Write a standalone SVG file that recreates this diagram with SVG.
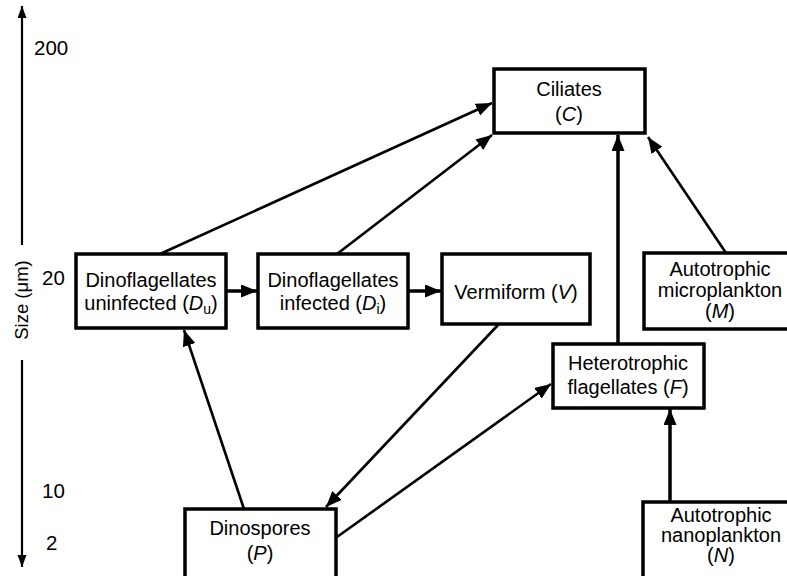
<svg xmlns="http://www.w3.org/2000/svg" width="787" height="576" viewBox="0 0 787 576">
<defs>
<marker id="ah" markerUnits="userSpaceOnUse" markerWidth="17" markerHeight="14" refX="16" refY="6.5" orient="auto">
<path d="M0,0 L16,6.5 L0,13 z" fill="#000"/>
</marker>
<marker id="ax" markerUnits="userSpaceOnUse" markerWidth="13" markerHeight="10" refX="12" refY="4.5" orient="auto">
<path d="M0,0 L12,4.5 L0,9 z" fill="#000"/>
</marker>
</defs>
<style>
.box{fill:#fff;stroke:#000;stroke-width:3.5}
.t{font-family:"Liberation Sans",Arial,sans-serif;font-size:20px;fill:#000;text-anchor:middle}
.ax{font-family:"Liberation Sans",Arial,sans-serif;font-size:20.5px;fill:#000}
.c{stroke:#000;stroke-width:2.6;fill:none;marker-end:url(#ah)}
.ck{stroke:#000;stroke-width:3.5;fill:none;marker-end:url(#ah)}
.i{font-style:italic}
</style>
<rect width="787" height="576" fill="#fff"/>
<g id="axis">
<line x1="22" y1="245" x2="22" y2="6" stroke="#000" stroke-width="2.2" marker-end="url(#ax)"/>
<line x1="22" y1="360" x2="22" y2="567" stroke="#000" stroke-width="2.2" marker-end="url(#ax)"/>
<text class="ax" transform="translate(28,300) rotate(-90)" text-anchor="middle" style="font-size:18.5px">Size (μm)</text>
<text class="ax" x="34" y="55">200</text>
<text class="ax" x="42" y="285">20</text>
<text class="ax" x="42" y="498">10</text>
<text class="ax" x="46" y="550">2</text>
</g>
<g id="connectors">
<line class="c" x1="160" y1="254" x2="492" y2="103"/>
<line class="c" x1="337" y1="254" x2="492" y2="135"/>
<line class="ck" x1="618" y1="344" x2="618" y2="135"/>
<line class="c" x1="726" y1="253" x2="648" y2="137"/>
<line class="ck" x1="226" y1="291" x2="257" y2="291"/>
<line class="ck" x1="408" y1="291" x2="441" y2="291"/>
<line class="c" x1="244" y1="509" x2="184" y2="330"/>
<line class="c" x1="498" y1="325" x2="326" y2="507"/>
<line class="c" x1="337" y1="537" x2="551" y2="384"/>
<line class="ck" x1="670" y1="502" x2="670" y2="409"/>
</g>
<g id="ciliates">
<rect class="box" x="494" y="69" width="151" height="64"/>
<text class="t" x="569" y="96">Ciliates</text>
<text class="t" x="569" y="121">(<tspan class="i">C</tspan>)</text>
</g>
<g id="dino-uninfected">
<rect class="box" x="76" y="254" width="150" height="74"/>
<text class="t" x="151" y="287">Dinoflagellates</text>
<text class="t" x="151" y="310">uninfected (<tspan class="i">D</tspan><tspan font-size="14" dy="4">u</tspan><tspan dy="-4">)</tspan></text>
</g>
<g id="dino-infected">
<rect class="box" x="258" y="254" width="150" height="74"/>
<text class="t" x="333" y="287">Dinoflagellates</text>
<text class="t" x="333" y="310">infected (<tspan class="i">D</tspan><tspan font-size="14" dy="4">i</tspan><tspan dy="-4">)</tspan></text>
</g>
<g id="vermiform">
<rect class="box" x="442" y="254" width="148" height="70"/>
<text class="t" x="516" y="299">Vermiform (<tspan class="i">V</tspan>)</text>
</g>
<g id="micro">
<rect class="box" x="644" y="253" width="152" height="76"/>
<text class="t" x="720" y="276">Autotrophic</text>
<text class="t" x="720" y="297">microplankton</text>
<text class="t" x="720" y="318">(<tspan class="i">M</tspan>)</text>
</g>
<g id="hetero">
<rect class="box" x="553" y="344" width="151" height="64"/>
<text class="t" x="628" y="370">Heterotrophic</text>
<text class="t" x="628" y="394">flagellates (<tspan class="i">F</tspan>)</text>
</g>
<g id="dinospores">
<rect class="box" x="185" y="509" width="151" height="80"/>
<text class="t" x="260" y="535">Dinospores</text>
<text class="t" x="260" y="560">(<tspan class="i">P</tspan>)</text>
</g>
<g id="nano">
<rect class="box" x="643" y="502" width="152" height="80"/>
<text class="t" x="721" y="522">Autotrophic</text>
<text class="t" x="721" y="542">nanoplankton</text>
<text class="t" x="721" y="562">(<tspan class="i">N</tspan>)</text>
</g>
</svg>
